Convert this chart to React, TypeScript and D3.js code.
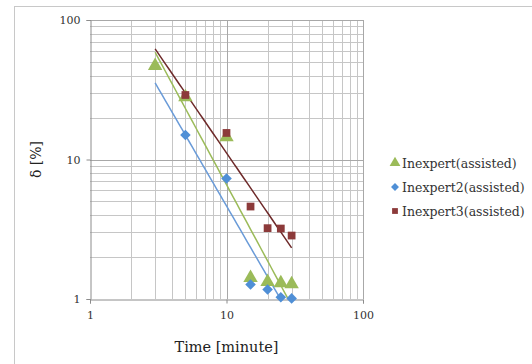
import { useEffect, useRef } from "react";
import * as d3 from "d3";

const times1 = [3, 5, 10, 15, 20, 25, 30];
const inexpert = [47, 28, 14.5, 1.42, 1.33, 1.3, 1.28];
const times2 = [5, 10, 15, 20, 25, 30];
const inexpert2 = [15, 7.3, 1.27, 1.17, 1.03, 1.01];
const times3 = [5, 10, 15, 20, 25, 30];
const inexpert3 = [29, 15.5, 4.6, 3.22, 3.2, 2.85];

const seriesNames = ["Inexpert(assisted)", "Inexpert2(assisted)", "Inexpert3(assisted)"];
const xTicks = [1, 10, 100];
const yTicks = [1, 10, 100];
const minorVals = [2, 3, 4, 5, 6, 7, 8, 9, 20, 30, 40, 50, 60, 70, 80, 90];
const trendRange = [3, 30];

// power trendline (linear fit in log-log)
function powerFit(xs: number[], ys: number[]) {
  const lx = xs.map(Math.log10);
  const ly = ys.map(Math.log10);
  const mx = d3.mean(lx) || 0;
  const my = d3.mean(ly) || 0;
  let sxy = 0, sxx = 0;
  lx.forEach((v, i) => {
    sxy += (v - mx) * (ly[i] - my);
    sxx += (v - mx) * (v - mx);
  });
  const b = sxy / sxx;
  const a = my - b * mx;
  return (x: number) => Math.pow(10, a + b * Math.log10(x));
}

export default function App() {
  const ref = useRef<SVGSVGElement>(null);

  useEffect(() => {
    if (!ref.current) return;
    const svg = d3.select(ref.current);
    svg.selectAll("*").remove();

    const left = 90, right = 363, top = 20, bottom = 299;
    const x = d3.scaleLog().domain([1, 100]).range([left, right]);
    const y = d3.scaleLog().domain([1, 100]).range([bottom, top]);
    const font = "'DejaVu Serif', serif";

    svg.append("rect")
      .attr("x", 14.5).attr("y", 6.5)
      .attr("width", 540).attr("height", 380)
      .attr("fill", "#fff").attr("stroke", "#c8c8c8").attr("stroke-width", 1);

    const grid = svg.append("g");
    minorVals.forEach(v => {
      grid.append("line")
        .attr("x1", Math.round(x(v)) + 0.5).attr("x2", Math.round(x(v)) + 0.5)
        .attr("y1", top).attr("y2", bottom)
        .attr("stroke", "#c6c6c6").attr("stroke-width", 1);
      grid.append("line")
        .attr("y1", Math.round(y(v)) + 0.5).attr("y2", Math.round(y(v)) + 0.5)
        .attr("x1", left).attr("x2", right)
        .attr("stroke", "#c6c6c6").attr("stroke-width", 1);
    });
    [10, 100].forEach(v => {
      grid.append("line")
        .attr("x1", Math.round(x(v)) + 0.5).attr("x2", Math.round(x(v)) + 0.5)
        .attr("y1", top).attr("y2", bottom)
        .attr("stroke", "#a8a8a8").attr("stroke-width", 1);
      grid.append("line")
        .attr("y1", Math.round(y(v)) + 0.5).attr("y2", Math.round(y(v)) + 0.5)
        .attr("x1", left).attr("x2", right)
        .attr("stroke", "#a8a8a8").attr("stroke-width", 1);
    });

    // axes
    const xAxis = svg.append("g")
      .attr("transform", `translate(0,${bottom + 0.5})`)
      .call(d3.axisBottom(x).tickValues(xTicks).tickFormat(d3.format("d")).tickSize(4).tickPadding(8));
    const yAxis = svg.append("g")
      .attr("transform", `translate(${left + 0.5},0)`)
      .call(d3.axisLeft(y).tickValues(yTicks).tickFormat(d3.format("d")).tickSize(4).tickPadding(6));
    [xAxis, yAxis].forEach(g => {
      g.select(".domain").attr("stroke", "#8c8c8c");
      g.selectAll(".tick line").attr("stroke", "#8c8c8c");
      g.selectAll(".tick text").attr("fill", "#333").style("font-family", font).style("font-size", "11px");
    });

    svg.append("text")
      .attr("x", (left + right) / 2).attr("y", 352)
      .attr("text-anchor", "middle")
      .style("font-family", font).style("font-size", "14.5px").attr("fill", "#222")
      .text("Time [minute]");
    svg.append("text")
      .attr("transform", `translate(41,${(top + bottom) / 2}) rotate(-90)`)
      .attr("text-anchor", "middle")
      .style("font-family", font).style("font-size", "14px").attr("fill", "#222")
      .text("δ [%]");

    const series = [
      { t: times1, v: inexpert, marker: "tri", fill: "#9bbb59", line: "#9bbb59" },
      { t: times2, v: inexpert2, marker: "dia", fill: "#4f8fd6", line: "#6a9bd8" },
      { t: times3, v: inexpert3, marker: "sq", fill: "#8c3a3a", line: "#6e2a2a" },
    ];

    svg.append("clipPath").attr("id", "plotclip")
      .append("rect").attr("x", left).attr("y", top).attr("width", right - left).attr("height", bottom - top);

    const markerPath = (m: string, s: number) => {
      if (m === "tri") return d3.symbol(d3.symbolTriangle, s * 1.2)();
      if (m === "dia") return d3.symbol(d3.symbolSquare, s * 0.75)();
      return d3.symbol(d3.symbolSquare, s * 0.8)();
    };
    const rot = (m: string) => (m === "dia" ? " rotate(45)" : "");

    // trendlines
    series.forEach(s => {
      const f = powerFit(s.t, s.v);
      const pts = d3.range(0, 41).map(i => {
        const lx = Math.log10(trendRange[0]) + (Math.log10(trendRange[1]) - Math.log10(trendRange[0])) * i / 40;
        const xv = Math.pow(10, lx);
        return [xv, f(xv)] as [number, number];
      });
      svg.append("path")
        .attr("d", d3.line<[number, number]>().x(d => x(d[0])).y(d => y(d[1]))(pts))
        .attr("fill", "none").attr("stroke", s.line).attr("stroke-width", 1.5)
        .attr("clip-path", "url(#plotclip)");
    });

    // markers
    series.forEach(s => {
      svg.append("g").selectAll("path")
        .data(s.t.map((t, i) => [t, s.v[i]]))
        .enter().append("path")
        .attr("transform", d => `translate(${x(d[0])},${y(d[1])})${rot(s.marker)}`)
        .attr("d", markerPath(s.marker, 75))
        .attr("fill", s.fill);
    });

    // legend
    const lg = svg.append("g").attr("transform", "translate(395,163)");
    series.forEach((s, i) => {
      lg.append("path")
        .attr("transform", `translate(0,${i * 24})${rot(s.marker)}`)
        .attr("d", markerPath(s.marker, 42))
        .attr("fill", s.fill);
      lg.append("text")
        .attr("x", 7).attr("y", i * 24 + 4.5)
        .style("font-family", font).style("font-size", "12.5px").attr("fill", "#333")
        .text(seriesNames[i]);
    });
  }, []);

  return <svg ref={ref} width={532} height={364} style={{ position: "absolute", left: 0, top: 0, background: "#fff" }} />;
}
